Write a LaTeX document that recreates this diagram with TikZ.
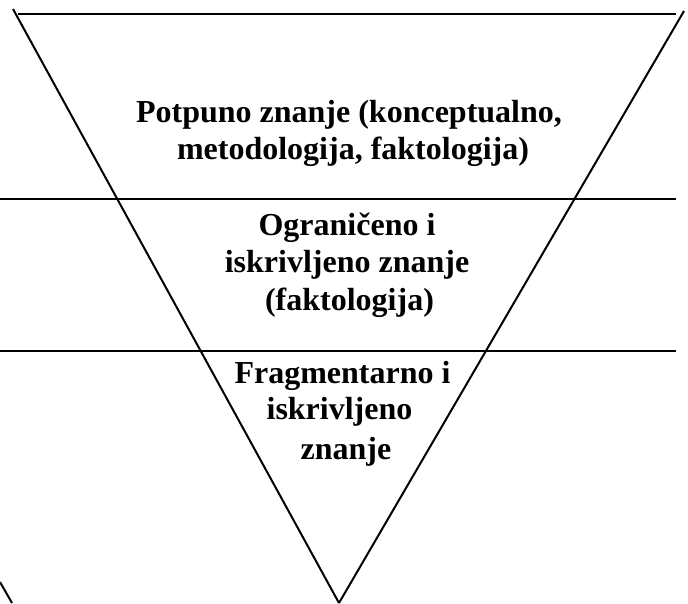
\documentclass[tikz,border=0pt]{standalone}
\usepackage{fontspec}
\setmainfont{Liberation Serif}
\begin{document}
\begin{tikzpicture}[x=1pt,y=-1pt,
  edge/.style={line width=2pt, line cap=butt},
  hedge/.style={line width=2.6pt, line cap=butt},
  lbl/.style={anchor=base, inner sep=0pt, font=\fontsize{32}{37}\selectfont\bfseries}]
\useasboundingbox (0,0) rectangle (688,603);
% triangle corners
\coordinate (tl) at (13,9);
\coordinate (tr) at (684,11);
\coordinate (apex) at (339,603);
\coordinate (topa) at (18,14);
\coordinate (topb) at (676,14);
\coordinate (h1a) at (0,199);
\coordinate (h1b) at (676,199);
\coordinate (h2a) at (0,351);
\coordinate (h2b) at (676,351);
\coordinate (fa) at (0,582);
\coordinate (fb) at (12,603);
\draw[hedge] (topa) -- (topb);
\draw[edge] (tl) -- (apex);
\draw[edge] (tr) -- (apex);
\draw[hedge] (h1a) -- (h1b);
\draw[hedge] (h2a) -- (h2b);
\draw[edge] (fa) -- (fb);
% texts
\node[lbl] (a1) at (349,122) {Potpuno znanje (konceptualno,};
\node[lbl] (a2) at (353,159) {metodologija, faktologija)};
\node[lbl] (b1) at (347,235) {Ograničeno i};
\node[lbl] (b2) at (347,272) {iskrivljeno znanje};
\node[lbl] (b3) at (349.5,310) {(faktologija)};
\node[lbl] (c1) at (342.5,383) {Fragmentarno i};
\node[lbl] (c2) at (339.5,419) {iskrivljeno};
\node[lbl] (c3) at (346,459) {znanje};
\end{tikzpicture}
\end{document}
